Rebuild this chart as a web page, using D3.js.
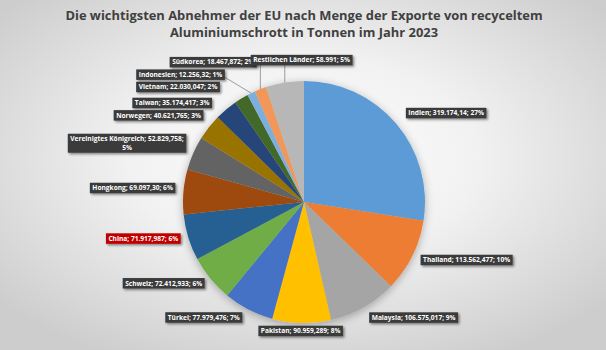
<!DOCTYPE html>
<html>
<head>
<meta charset="utf-8">
<script src="https://cdn.jsdelivr.net/npm/d3@7"></script>
<style>
  body { margin: 0; }
  svg { display: block; }
</style>
</head>
<body>
<div id="chart"></div>
<script>
// data
const countries = ["Indien", "Thailand", "Malaysia", "Pakistan", "Türkei", "Schweiz", "China", "Hongkong",
    "Vereinigtes Königreich", "Norwegen", "Taiwan", "Vietnam", "Indonesien", "Südkorea", "Restlichen Länder"];
const tonnes = [319174.14, 113562.477, 106575.017, 90959.289, 77979.476, 72412.933, 71917.987, 69097.30,
    52829.758, 40621.765, 35174.417, 22030.047, 12256.32, 18467.872, 58991];
const valueText = ["319.174,14", "113.562,477", "106.575,017", "90.959,289", "77.979,476", "72.412,933", "71.917,987",
    "69.097,30", "52.829,758", "40.621,765", "35.174,417", "22.030,047", "12.256,32", "18.467,872", "58.991"];
const percentText = ["27%", "10%", "9%", "8%", "7%", "6%", "6%", "6%", "5%", "3%", "3%", "2%", "1%", "2%", "5%"];
const titleLines = ["Die wichtigsten Abnehmer der EU nach Menge der Exporte von recyceltem",
    "Aluminiumschrott in Tonnen im Jahr 2023"];

// Excel style palette
const colors = ["#5b9bd5", "#ed7d31", "#a5a5a5", "#ffc000", "#4472c4", "#70ad47", "#255e91", "#9e480e",
    "#636363", "#997300", "#264478", "#43682b", "#7cafdd", "#f1975a", "#b7b7b7"];

const width = 606, height = 350;
const cx = 304, cy = 202, radius = 121;
const labelRadius = 166;
// nudges of the label boxes away from the plain radial spot
const labelNudge = {
    "Indien": [16, 19], "Thailand": [14, -16], "Malaysia": [28, -29], "Pakistan": [0, -37],
    "Türkei": [-24, -32], "Schweiz": [-12, -24], "China": [-2, -12], "Hongkong": [-6, 0],
    "Vereinigtes Königreich": [-25, 8], "Norwegen": [-15, 16], "Taiwan": [-25, 28],
    "Vietnam": [-40, 27], "Indonesien": [-51, 22], "Südkorea": [-31, 15], "Restlichen Länder": [24, 22]
};
const leaders = ["Indonesien", "Südkorea", "Restlichen Länder"];

const svg = d3.select("#chart").append("svg")
    .attr("width", width)
    .attr("height", height);

const defs = svg.append("defs");
const grad = defs.append("radialGradient")
    .attr("id", "bg")
    .attr("cx", "50%").attr("cy", "45%").attr("r", "65%");
grad.append("stop").attr("offset", "0%").attr("stop-color", "#ffffff");
grad.append("stop").attr("offset", "45%").attr("stop-color", "#f1f1f1");
grad.append("stop").attr("offset", "100%").attr("stop-color", "#cdcdcd");

const pieShadow = defs.append("filter").attr("id", "pieShadow")
    .attr("x", "-20%").attr("y", "-20%").attr("width", "140%").attr("height", "140%");
pieShadow.append("feDropShadow")
    .attr("dx", 0).attr("dy", 2).attr("stdDeviation", 4)
    .attr("flood-color", "#000").attr("flood-opacity", 0.3);

const boxShadow = defs.append("filter").attr("id", "boxShadow")
    .attr("x", "-20%").attr("y", "-50%").attr("width", "140%").attr("height", "200%");
boxShadow.append("feDropShadow")
    .attr("dx", 1.5).attr("dy", 1.5).attr("stdDeviation", 1)
    .attr("flood-color", "#000").attr("flood-opacity", 0.45);

svg.append("rect")
    .attr("width", width)
    .attr("height", height)
    .attr("fill", "url(#bg)");

// title
svg.append("g").selectAll("text")
    .data(titleLines)
    .join("text")
    .attr("x", width / 2 + 1)
    .attr("y", (d, i) => 20 + i * 16.5)
    .attr("text-anchor", "middle")
    .attr("font-family", "'Open Sans', sans-serif")
    .attr("font-weight", "bold")
    .attr("font-size", 12.9)
    .attr("fill", "#404040")
    .text(d => d);

const data = countries.map((c, i) => ({
    name: c, value: tonnes[i], vtext: valueText[i], ptext: percentText[i], color: colors[i]
}));

const pie = d3.pie().sort(null).value(d => d.value);
const arcs = pie(data);
const arc = d3.arc().innerRadius(0).outerRadius(radius);

const g = svg.append("g").attr("transform", `translate(${cx},${cy})`);

g.append("g")
    .attr("filter", "url(#pieShadow)")
    .selectAll("path")
    .data(arcs)
    .join("path")
    .attr("d", arc)
    .attr("fill", d => d.data.color);

function midAngle(d) { return (d.startAngle + d.endAngle) / 2; }
function labelPos(d) {
    const a = midAngle(d);
    const n = labelNudge[d.data.name];
    return [labelRadius * Math.sin(a) + n[0], -labelRadius * Math.cos(a) + n[1]];
}
function edgePos(d) {
    const a = midAngle(d);
    return [radius * Math.sin(a), -radius * Math.cos(a)];
}

// leader lines
const leaderArcs = arcs.filter(d => leaders.includes(d.data.name));
g.append("g").selectAll("polyline")
    .data(leaderArcs)
    .join("polyline")
    .attr("fill", "none")
    .attr("stroke", "#7f7f7f")
    .attr("stroke-width", 0.75)
    .attr("points", d => {
        const e = edgePos(d), p = labelPos(d);
        if (d.data.name === "Indonesien") return [[p[0] + 40, p[1]], e].join(" ");
        return [[e[0], p[1]], e].join(" ");
    });

// labels
const labels = g.append("g").selectAll("g")
    .data(arcs)
    .join("g")
    .attr("transform", d => `translate(${labelPos(d)})`);

labels.each(function(d) {
    const lab = d3.select(this);
    const lines = d.data.name === "Vereinigtes Königreich"
        ? [`${d.data.name}; ${d.data.vtext};`, d.data.ptext]
        : [`${d.data.name}; ${d.data.vtext}; ${d.data.ptext}`];
    const rect = lab.append("rect");
    const txt = lab.append("text")
        .attr("text-anchor", "middle")
        .attr("font-family", "'Open Sans', sans-serif")
        .attr("font-weight", "bold")
        .attr("font-size", 6.6)
        .attr("fill", "#ffffff");
    const lh = 8.5;
    txt.selectAll("tspan")
        .data(lines)
        .join("tspan")
        .attr("x", 0)
        .attr("y", (l, i) => (i - (lines.length - 1) / 2) * lh + 2.3)
        .text(l => l);
    const bb = txt.node().getBBox();
    rect.attr("x", bb.x - 2.5)
        .attr("y", -(lines.length * lh + 2) / 2)
        .attr("width", bb.width + 5)
        .attr("height", lines.length * lh + 2)
        .attr("fill", d.data.name === "China" ? "#c00000" : "#3b3b3b")
        .attr("filter", "url(#boxShadow)");
});
</script>
</body>
</html>
